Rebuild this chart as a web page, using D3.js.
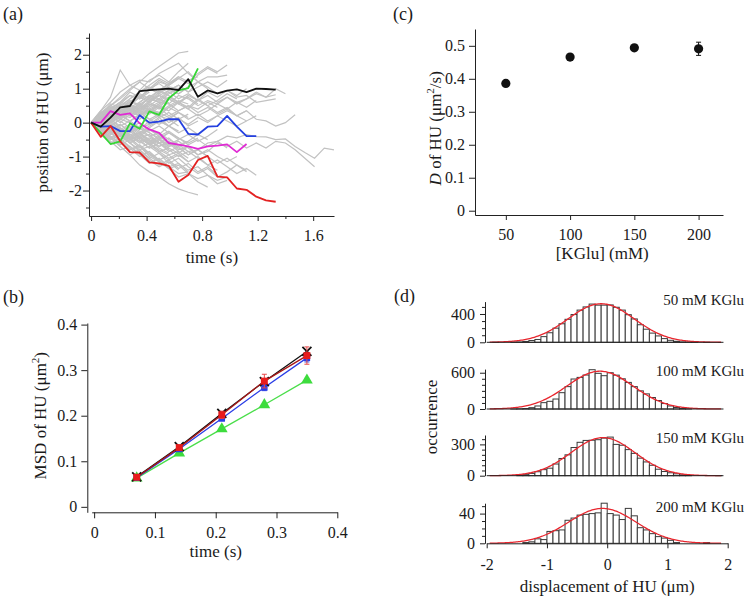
<!DOCTYPE html>
<html>
<head>
<meta charset="utf-8">
<script src="https://cdn.jsdelivr.net/npm/d3@7"></script>
<style>
  body { margin: 0; background: #fff; }
  svg text { font-family: "Liberation Serif", "Times New Roman", serif; fill: #1a1a1a; }
</style>
</head>
<body>
<svg id="fig" width="750" height="600"></svg>
<script>
const FONT = '"Liberation Serif", "Times New Roman", serif';

// ---------- (a) single-particle trajectories, one point every 0.07 s ----------
const frameDt = 0.07;
const trackBlack = [0, -0.12, 0.15, 0.45, 0.49, 0.93, 0.96, 0.98, 1.0, 0.96, 1.28, 0.76, 0.95, 0.86, 0.94, 0.98, 0.9, 1.0, 0.99, 0.97];
const trackGreen = [0, -0.3, -0.63, -0.55, -0.02, -0.18, 0.33, 0.23, 0.72, 0.95, 1.02, 1.6];
const trackBlue = [0, -0.12, -0.1, -0.25, -0.25, 0.22, 0.0, 0.03, 0.1, 0.1, -0.33, -0.35, -0.12, -0.1, 0.2, -0.12, -0.4, -0.4];
const trackMagenta = [0, 0.0, 0.34, 0.23, 0.27, -0.02, -0.2, -0.3, -0.6, -0.65, -0.7, -0.77, -0.7, -0.68, -0.64, -0.87, -0.63];
const trackRed = [0, -0.42, -0.1, -0.55, -0.87, -0.88, -1.17, -1.2, -1.27, -1.74, -1.54, -1.1, -0.98, -1.59, -1.61, -1.94, -1.98, -2.18, -2.29, -2.33];
const greyTracks = [
  [0, 0.25, 0.5, 0.7, 0.95, 1.2, 1.45, 1.65, 1.85, 2.05, 2.1],
  [0, 0.35, 0.75, 1.55, 1.1, 1.25, 1.2, 1.45, 1.6, 1.75, 1.45, 1.2],
  [0, -0.2, -0.45, -0.7, -0.95, -1.25, -1.45, -1.6, -1.8, -1.95, -2.05, -2.13],
  [0, -0.1, 0.1, -0.15, -0.35, -0.3, -0.55, -0.5, -0.7, -0.65, -0.85, -0.8, -0.6, -0.55, -0.4, -0.45, -0.35, -0.41, -0.42, -0.5, -0.48, -0.7, -0.88, -1.05, -0.75, -0.8],
  [0, 0.15, -0.05, -0.3, -0.2, -0.45, -0.6, -0.5, -0.75, -0.9, -0.7, -0.95, -0.85, -0.6, -0.7, -0.55, -0.75, -0.6, -0.75, -0.55, -0.6, -0.8, -1.05, -1.3],
  [0, 0.2, 0.05, 0.3, 0.5, 0.35, 0.6, 0.45, 0.7, 0.55, 0.4, 0.65, 0.5, 0.3, 0.45, 0.2, 0.35, 0.1, 0.05, -0.1, 0.0, 0.23],
  [0, -0.15, 0.1, 0.35, 0.25, 0.6, 0.8, 0.7, 0.95, 1.1, 0.9, 1.2, 1.05, 0.85, 0.95, 0.75, 0.8, 0.6, 0.65, 0.7],
  [0, 0.1, 0.3, 0.2, 0.5, 0.45, 0.75, 0.6, 0.55, 0.8, 0.7, 0.5, 0.65, 0.55, 0.75, 0.6, 0.7, 0.85, 0.75, 0.82],
  [0, 0.3, 0.2, 0.55, 0.8, 0.7, 1.0, 1.25, 1.1, 1.3, 1.5, 1.2, 1.35, 1.35, 1.4],
  [0, -0.3, -0.2, -0.5, -0.8, -0.65, -0.9, -1.1, -0.95, -1.2, -1.4, -1.3, -1.55, -1.7, -1.6],
  [0, 0.2, 0.1, 0.35, 0.5, 0.4, 0.65, 0.8, 0.7, 0.95],
  [0, -0.2, -0.35, -0.15, -0.4, -0.6, -0.5, -0.75, -0.9],
  [0, 0.15, 0.4, 0.6, 0.5, 0.75, 0.95, 1.2, 1.1],
  [0, -0.1, -0.3, -0.55, -0.45, -0.7, -1.0, -1.15, -1.3, -1.2, -1.45],
  [0, 0.3, 0.45, 0.3, 0.55, 0.75, 0.6, 0.85, 1.05, 1.0, 1.25, 1.35],
  [0, -0.25, -0.1, 0.1, 0.0, -0.2, 0.05, 0.2, 0.1, 0.3, 0.15],
  [0, 0.1, -0.1, -0.3, -0.2, -0.45, -0.35, -0.6, -0.55, -0.8, -0.7, -0.95],
  [0, 0.25, 0.55, 0.45, 0.7, 0.9, 1.05, 0.9, 1.15, 1.3],
  [0, -0.3, -0.55, -0.8, -0.7, -0.95, -1.2, -1.05, -1.3, -1.5, -1.45],
  [0, 0.15, 0.05, 0.25, 0.45, 0.3, 0.1, 0.25, 0.0, 0.15, -0.1, 0.05],
  [0, -0.15, -0.05, -0.25, -0.5, -0.4, -0.2, -0.35, -0.1, -0.25],
  [0, 0.35, 0.6, 0.9, 1.1, 0.95, 1.25, 1.4, 1.2, 1.5, 1.75],
  [0, -0.35, -0.6, -0.45, -0.75, -1.0, -0.85, -1.1, -1.35, -1.6, -1.5, -1.75, -1.9],
  [0, 0.1, 0.3, 0.15, 0.4, 0.3, 0.55, 0.45, 0.2, 0.35, 0.5, 0.4, 0.6, 0.45],
  [0, -0.05, 0.2, 0.4, 0.6, 0.8, 0.65, 0.9, 1.0, 0.85, 1.05, 1.2, 1.0],
  [0, -0.2, -0.1, -0.35, -0.6, -0.8, -0.7, -0.9, -1.1, -0.95, -1.15, -1.0, -1.25, -1.4],
  [0, 0.2, 0.45, 0.35, 0.6, 0.55, 0.35, 0.5, 0.7, 0.55, 0.8],
  [0, -0.25, -0.5, -0.4, -0.6, -0.45, -0.65, -0.5, -0.3, -0.45, -0.6, -0.45],
  [0, 0.3, 0.5, 0.75, 1.0, 1.2, 1.0, 1.15, 0.95, 1.1, 0.9, 1.05, 1.2, 1.05, 1.25],
  [0, -0.1, -0.25, -0.05, -0.3, -0.15, -0.4, -0.6, -0.45, -0.7, -0.55, -0.35, -0.5],
  [0, 0.1, 0.2, 0.0, 0.25, 0.1, 0.35, 0.2, 0.45, 0.6, 0.45, 0.7, 0.5, 0.65, 0.85, 0.7],
  [0, -0.2, -0.4, -0.65, -0.5, -0.75, -0.6, -0.85, -1.05, -0.9, -1.15],
  [0, 0.2, 0.4, 0.25, 0.05, 0.2, -0.05, 0.15, -0.1, -0.3, -0.15, -0.35],
  [0, -0.15, -0.35, -0.2, -0.45, -0.7, -0.9, -1.15, -1.35, -1.25, -1.5, -1.65, -1.55, -1.8, -1.7],
  [0, 0.25, 0.15, 0.4, 0.65, 0.5, 0.75, 0.95, 0.8, 0.6, 0.75, 0.55],
  [0, -0.3, -0.2, -0.4, -0.25, -0.5, -0.75, -0.6, -0.85, -0.7, -0.95, -0.8, -1.0],
  [0, 0.15, 0.35, 0.55, 0.4, 0.2, 0.35, 0.15, 0.3, 0.1, 0.25],
  [0, -0.1, 0.15, 0.05, -0.15, 0.0, -0.25, -0.1, -0.3, -0.5, -0.35, -0.55, -0.4, -0.2],
  [0, 0.2, 0.4, 0.6, 0.9, 0.75, 1.0, 0.85, 1.1, 1.3, 1.15, 1.4, 1.6, 1.45],
  [0, -0.25, -0.45, -0.7, -0.95, -0.8, -1.05, -1.25, -1.1, -1.35, -1.2, -1.45, -1.3, -1.55],
  [0, 0.1, -0.1, 0.1, 0.3, 0.5, 0.35, 0.55, 0.75, 0.6, 0.8, 0.65, 0.9, 0.75, 0.95, 0.8, 1.0],
  [0, -0.15, 0.05, -0.2, -0.4, -0.3, -0.55, -0.45, -0.7, -0.55, -0.75, -0.95, -0.8, -1.0, -1.15, -1.0],
  [0, 0.3, 0.15, 0.35, 0.2, 0.45, 0.3, 0.5, 0.35, 0.6, 0.4, 0.2, 0.35, 0.55, 0.4, 0.6, 0.45, 0.65],
  [0, -0.2, -0.05, -0.25, -0.1, -0.3, -0.15, 0.05, -0.1, 0.1, -0.05, 0.15, 0.0, 0.2, 0.05, -0.1, 0.05],
  [0, 0.25, 0.5, 0.35, 0.6, 0.85, 0.7, 0.95, 1.15, 1.35, 1.2, 1.45, 1.65, 1.5, 1.7],
  [0, -0.3, -0.5, -0.35, -0.6, -0.85, -1.05, -0.9, -1.2, -1.05, -1.3, -1.5, -1.35, -1.6, -1.45, -1.25, -1.4],
  [0, 0.15, 0.35, 0.2, 0.45, 0.6, 0.8, 0.65, 0.9, 0.7, 0.85, 0.65, 0.8, 0.6, 0.75, 0.55, 0.7, 0.9, 0.75, 1.0, 0.85],
  [0, -0.1, -0.3, -0.5, -0.35, -0.55, -0.75, -0.6, -0.8, -1.0, -0.85, -1.05, -1.25, -1.1, -1.3, -1.5, -1.35, -1.55],
  [0, 0.2, 0.0, 0.2, 0.4, 0.25, 0.5, 0.7, 0.55, 0.35, 0.5, 0.3, 0.45, 0.25, 0.4, 0.2, 0.35],
  [0, -0.2, -0.45, -0.3, -0.5, -0.35, -0.2, -0.4, -0.25, -0.45, -0.65, -0.5, -0.7, -0.55, -0.75],
  [0, 0.1, 0.3, 0.15, 0.35, 0.2, 0.4, 0.25, 0.45, 0.3, 0.1, 0.25, 0.05, 0.2, 0.35, 0.2, 0.05, 0.2],
  [0, -0.2, -0.05, -0.25, -0.45, -0.3, -0.5, -0.7, -0.55, -0.75, -0.95, -0.8, -1.0, -1.2, -1.05, -1.25, -1.45],
  [0, 0.15, 0.3, 0.2, 0.4, 0.55, 0.45, 0.6],
  [0, -0.15, -0.3, -0.2, -0.4, -0.55, -0.45, -0.6, -0.75],
  [0, 0.2, 0.1, -0.1, 0.05, -0.15, -0.05, 0.1],
  [0, -0.1, 0.05, 0.25, 0.15, 0.35, 0.25, 0.45, 0.35],
  [0, 0.05, -0.15, -0.35, -0.5, -0.4, -0.65, -0.55],
  [0, 0.25, 0.4, 0.6, 0.8, 0.7, 0.9],
  [0, -0.25, -0.4, -0.6, -0.8, -0.7, -0.95, -1.1],
  [0, 0.1, 0.25, 0.1, 0.3, 0.5, 0.4, 0.55, 0.75],
  [0, -0.05, -0.2, -0.05, -0.25, -0.1, -0.3, -0.45, -0.3],
  [0, 0.2, 0.35, 0.5, 0.35, 0.55, 0.7, 0.6, 0.85, 1.0],
  [0, -0.2, -0.1, -0.3, -0.15, -0.35, -0.55, -0.7, -0.6, -0.85],
  [0, 0.1, 0.0, 0.15, 0.3, 0.2, 0.4, 0.3, 0.15, 0.3],
  [0, -0.1, -0.25, -0.4, -0.3, -0.15, -0.3, -0.5, -0.65, -0.5],
  [0, 0.3, 0.2, 0.4, 0.55, 0.75, 0.6, 0.8, 0.65],
  [0, -0.3, -0.15, -0.35, -0.55, -0.45, -0.65, -0.85, -0.75],
  [0, 0.15, 0.0, 0.2, 0.05, 0.25, 0.4, 0.3, 0.5, 0.65, 0.55],
  [0, -0.15, 0.0, -0.2, -0.05, -0.25, -0.4, -0.3, -0.5, -0.65, -0.55],
  [0, 0.2, 0.45, 0.3, 0.5, 0.35, 0.55, 0.4, 0.6],
  [0, -0.2, -0.45, -0.3, -0.5, -0.35, -0.55, -0.4, -0.6],
  [0, 0.05, 0.2, 0.35, 0.2, 0.4, 0.6, 0.8, 0.95, 0.85, 1.05],
  [0, -0.05, -0.2, -0.35, -0.2, -0.4, -0.6, -0.8, -0.95, -0.85, -1.05],
  [0, 0.25, 0.1, 0.3, 0.45, 0.3, 0.1, -0.05, 0.1, -0.1],
  [0, -0.25, -0.1, -0.3, -0.45, -0.3, -0.1, 0.05, -0.1, 0.1],
  [0, 0.1, 0.3, 0.5, 0.7, 0.9, 1.1, 1.3, 1.15, 1.35],
  [0, -0.1, -0.3, -0.5, -0.7, -0.9, -1.1, -1.3, -1.15, -1.4]
];
const aTimeTicks = [0, 0.4, 0.8, 1.2, 1.6];
const aTimeMinor = [0.2, 0.6, 1.0, 1.4];
const aPosTicks = [-2, -1, 0, 1, 2];
const aPosMinor = [-2.5, -1.5, -0.5, 0.5, 1.5, 2.5];

// ---------- (b) MSD curves ----------
const msdTime = [0.07, 0.14, 0.21, 0.28, 0.35];
const msdGreen = [0.063, 0.118, 0.171, 0.224, 0.278];
const msdBlue = [0.064, 0.127, 0.194, 0.262, 0.327];
const msdBlack = [0.066, 0.132, 0.205, 0.275, 0.341];
const msdRed = [0.065, 0.130, 0.202, 0.276, 0.332];
const msdRedErr = [0.003, 0.005, 0.008, 0.015, 0.019];
const msdBlueErr = [0.002, 0.003, 0.005, 0.007, 0.009];
const bTimeTicks = [0, 0.1, 0.2, 0.3, 0.4];
const bMsdTicks = [0, 0.1, 0.2, 0.3, 0.4];

// ---------- (c) diffusion coefficient ----------
const kglu = [50, 100, 150, 200];
const diffCoef = [0.386, 0.466, 0.494, 0.491];
const diffErr = [0.004, 0.004, 0.004, 0.02];
const cYTicks = [0, 0.1, 0.2, 0.3, 0.4, 0.5];

// ---------- (d) displacement histograms, bins of 0.1 um starting at -1.9 ----------
const histTitles = ["50 mM KGlu", "100 mM KGlu", "150 mM KGlu", "200 mM KGlu"];
const hist50 = [1, 0, 0, 2, 5, 12, 25, 40, 80, 135, 200, 262, 325, 392, 455, 500, 540, 525, 525, 528, 495, 455, 390, 330, 248, 185, 130, 90, 52, 28, 14, 6, 3, 1, 0, 1, 0, 0];
const hist100 = [0, 0, 0, 1, 3, 8, 22, 50, 105, 127, 165, 270, 370, 496, 523, 562, 650, 590, 551, 600, 560, 500, 440, 370, 300, 250, 190, 140, 90, 50, 25, 10, 4, 0, 0, 0, 0, 0];
const hist150 = [0, 0, 0, 0, 4, 10, 22, 38, 58, 72, 112, 165, 200, 270, 320, 338, 340, 345, 360, 370, 300, 292, 250, 214, 168, 132, 100, 62, 40, 28, 18, 8, 3, 0, 0, 0, 0, 1];
const hist200 = [0, 0, 0, 0, 0, 1, 2, 6, 5, 16, 17, 18, 31, 34, 38, 39, 40, 41, 54, 40, 38, 32, 47, 37, 21, 18, 13, 9, 7, 4, 1, 0, 0, 0, 0, 1, 0, 0];
const fitCenter = [-0.1, -0.12, -0.07, -0.08];
const fitSigma = [0.55, 0.55, 0.53, 0.56];
const fitAmp = [545, 625, 365, 47];
const histMax = [575, 660, 390, 54];
const histMajor = [[0, 400], [0, 600], [0, 300], [0, 40]];
const histMinor = [[100, 200, 300, 500], [100, 200, 300, 400, 500], [50, 100, 150, 200, 250, 350], [10, 20, 30, 50]];
const dTicks = [-2, -1, 0, 1, 2];

// layout (pixel positions of the sub-panels in the figure)
const histZeroY = [342.3, 409, 475.7, 543.3];
const histTopY = [301.6, 369.1, 435, 503.2];
const histTitleY = [305, 376, 443, 512];

const svg = d3.select("#fig");
svg.append("rect").attr("width", 750).attr("height", 600).attr("fill", "#fff");

function styleAxis(g, size) {
  g.attr("font-family", FONT).attr("font-size", size || 16);
  g.selectAll("path, line").attr("stroke", "#222").attr("stroke-width", 1);
  g.selectAll("text").attr("fill", "#1a1a1a");
}
const fmt = (d) => String(d);

function panelLabel(txt, x, y) {
  svg.append("text").attr("x", x).attr("y", y).attr("font-size", 18).text(txt);
}

// ================= (a) =================
const xA = d3.scaleLinear().domain([-0.015, 1.75]).range([89, 334]);
const yA = d3.scaleLinear().domain([-2.75, 2.64]).range([216, 33]);
const gA = svg.append("g");

const trackLine = d3.line().x((d, i) => xA(i * frameDt)).y((d) => yA(d));
gA.selectAll(".grey").data(greyTracks).join("path")
  .attr("class", "grey").attr("d", trackLine)
  .attr("fill", "none").attr("stroke", "#c2c2c2").attr("stroke-width", 1.2);

const colourTracks = [
  { pos: trackMagenta, color: "#e02bd4" },
  { pos: trackBlue, color: "#2440e0" },
  { pos: trackGreen, color: "#36d636" },
  { pos: trackRed, color: "#e32222" },
  { pos: trackBlack, color: "#111" }
];
colourTracks.forEach(({ pos, color }) => {
  gA.append("path").datum(pos).attr("d", trackLine)
    .attr("fill", "none").attr("stroke", color).attr("stroke-width", 1.8)
    .attr("stroke-linejoin", "round");
});

gA.append("g").attr("transform", `translate(0,${yA.range()[0]})`)
  .call(d3.axisBottom(xA).tickValues(aTimeTicks).tickFormat(fmt).tickSize(5).tickPadding(9).tickSizeOuter(0))
  .call(styleAxis);
gA.append("g").attr("transform", `translate(0,${yA.range()[0]})`)
  .call(d3.axisBottom(xA).tickValues(aTimeMinor).tickFormat("").tickSize(3))
  .call((g) => g.select(".domain").remove()).call(styleAxis);
gA.append("g").attr("transform", `translate(${xA.range()[0]},0)`)
  .call(d3.axisLeft(yA).tickValues(aPosTicks).tickFormat(fmt).tickSize(6).tickPadding(1).tickSizeOuter(0))
  .call(styleAxis);
gA.append("g").attr("transform", `translate(${xA.range()[0]},0)`)
  .call(d3.axisLeft(yA).tickValues(aPosMinor).tickFormat("").tickSize(3))
  .call((g) => g.select(".domain").remove()).call(styleAxis);

gA.append("text").attr("x", xA(0.87)).attr("y", 263).attr("text-anchor", "middle")
  .attr("font-size", 17).text("time (s)");
gA.append("text").attr("transform", `translate(48,${yA(0)}) rotate(-90)`)
  .attr("text-anchor", "middle").attr("font-size", 17).text("position of HU (\u03bcm)");
panelLabel("(a)", 3, 20);

// ================= (b) =================
const xB = d3.scaleLinear().domain([-0.004, 0.4]).range([91.7, 337.3]);
const yB = d3.scaleLinear().domain([-0.012, 0.4035]).range([512.3, 323]);
const bYAxisX = 87.3;
const gB = svg.append("g");

gB.append("g").attr("transform", `translate(0,${yB.range()[0]})`)
  .call(d3.axisBottom(xB).tickValues(bTimeTicks).tickFormat(fmt).tickSize(6).tickPadding(8).tickSizeOuter(0))
  .call(styleAxis);
gB.append("g").attr("transform", `translate(${bYAxisX},0)`)
  .call(d3.axisLeft(yB).tickValues(bMsdTicks).tickFormat(fmt).tickSize(6).tickPadding(4).tickSizeOuter(0))
  .call(styleAxis);

const msdLine = d3.line().x((d, i) => xB(msdTime[i])).y((d) => yB(d));
function errBars(vals, errs, color) {
  const cap = 2.5;
  vals.forEach((v, i) => {
    const x = xB(msdTime[i]);
    gB.append("path")
      .attr("d", `M${x - cap},${yB(v + errs[i])}H${x + cap}M${x},${yB(v + errs[i])}V${yB(v - errs[i])}M${x - cap},${yB(v - errs[i])}H${x + cap}`)
      .attr("stroke", color).attr("stroke-width", 1).attr("fill", "none");
  });
}
// green triangles
gB.append("path").datum(msdGreen).attr("d", msdLine).attr("fill", "none").attr("stroke", "#4ade4a").attr("stroke-width", 1.3);
gB.selectAll(".tri").data(msdGreen).join("path").attr("class", "tri")
  .attr("transform", (d, i) => `translate(${xB(msdTime[i])},${yB(d)})`)
  .attr("d", d3.symbol(d3.symbolTriangle, 60)).attr("fill", "#3ddc3d");
// blue squares
errBars(msdBlue, msdBlueErr, "#3a4ee0");
gB.append("path").datum(msdBlue).attr("d", msdLine).attr("fill", "none").attr("stroke", "#2a3ee6").attr("stroke-width", 1.3);
gB.selectAll(".bsq").data(msdBlue).join("path").attr("class", "bsq")
  .attr("transform", (d, i) => `translate(${xB(msdTime[i])},${yB(d)})`)
  .attr("d", d3.symbol(d3.symbolSquare, 42)).attr("fill", "#2a3ee6");
// black crosses
gB.append("path").datum(msdBlack).attr("d", msdLine).attr("fill", "none").attr("stroke", "#111").attr("stroke-width", 1.3);
gB.selectAll(".xx").data(msdBlack).join("path").attr("class", "xx")
  .attr("transform", (d, i) => `translate(${xB(msdTime[i])},${yB(d)})`)
  .attr("d", "M-4.5,-4.5L4.5,4.5M-4.5,4.5L4.5,-4.5")
  .attr("fill", "none").attr("stroke", "#111").attr("stroke-width", 1.8);
// red squares
errBars(msdRed, msdRedErr, "#e84848");
gB.append("path").datum(msdRed).attr("d", msdLine).attr("fill", "none").attr("stroke", "#a81818").attr("stroke-width", 1.3);
gB.selectAll(".rsq").data(msdRed).join("path").attr("class", "rsq")
  .attr("transform", (d, i) => `translate(${xB(msdTime[i])},${yB(d)})`)
  .attr("d", d3.symbol(d3.symbolSquare, 48)).attr("fill", "#e81c1c");

gB.append("text").attr("x", xB(0.2)).attr("y", 557).attr("text-anchor", "middle")
  .attr("font-size", 17).text("time (s)");
const bTitle = gB.append("text").attr("transform", `translate(46,${yB(0.2)}) rotate(-90)`)
  .attr("text-anchor", "middle").attr("font-size", 17);
bTitle.append("tspan").text("MSD of HU (\u03bcm");
bTitle.append("tspan").attr("dy", -7).attr("font-size", 11).text("2");
bTitle.append("tspan").attr("dy", 7).text(")");
panelLabel("(b)", 3, 303);

// ================= (c) =================
const xC = d3.scaleLinear().domain([26, 219]).range([475, 723]);
const yC = d3.scaleLinear().domain([-0.013, 0.551]).range([215, 29]);
const gC = svg.append("g");

gC.append("g").attr("transform", `translate(0,${yC.range()[0]})`)
  .call(d3.axisBottom(xC).tickValues(kglu).tickFormat(fmt).tickSize(5).tickPadding(9).tickSizeOuter(0))
  .call(styleAxis);
gC.append("g").attr("transform", `translate(${xC.range()[0]},0)`)
  .call(d3.axisLeft(yC).tickValues(cYTicks).tickFormat(fmt).tickSize(6).tickPadding(4).tickSizeOuter(0))
  .call(styleAxis);

kglu.forEach((k, i) => {
  const x = xC(k), cap = 2.5;
  gC.append("path")
    .attr("d", `M${x - cap},${yC(diffCoef[i] + diffErr[i])}H${x + cap}M${x},${yC(diffCoef[i] + diffErr[i])}V${yC(diffCoef[i] - diffErr[i])}M${x - cap},${yC(diffCoef[i] - diffErr[i])}H${x + cap}`)
    .attr("stroke", "#111").attr("stroke-width", 1).attr("fill", "none");
});
gC.selectAll(".dot").data(diffCoef).join("circle").attr("class", "dot")
  .attr("cx", (d, i) => xC(kglu[i])).attr("cy", (d) => yC(d)).attr("r", 4.6).attr("fill", "#111");

gC.append("text").attr("x", xC(125)).attr("y", 259).attr("text-anchor", "middle")
  .attr("font-size", 17).text("[KGlu] (mM)");
const cTitle = gC.append("text").attr("transform", `translate(441,${yC(0.25)}) rotate(-90)`)
  .attr("text-anchor", "middle").attr("font-size", 17);
cTitle.append("tspan").attr("font-style", "italic").text("D");
cTitle.append("tspan").text(" of HU (\u03bcm");
cTitle.append("tspan").attr("dy", -7).attr("font-size", 11).text("2");
cTitle.append("tspan").attr("dy", 7).text("/s)");
panelLabel("(c)", 393, 20);

// ================= (d) =================
const xD = d3.scaleLinear().domain([-2, 2]).range([486.7, 727.7]);
const dYAxisX = 485;
const binStart = -1.9, binWidth = 0.1, lineEnd = 1.93;
const gD = svg.append("g");
const histCounts = [hist50, hist100, hist150, hist200];

histCounts.forEach((counts, k) => {
  const y = d3.scaleLinear().domain([0, histMax[k]]).range([histZeroY[k], histTopY[k]]);
  const g = gD.append("g");
  const bars = counts.map((c, i) => ({ x0: binStart + i * binWidth, c })).filter((d) => d.c > 0);
  g.selectAll("rect").data(bars).join("rect")
    .attr("x", (d) => xD(d.x0)).attr("width", xD(binWidth) - xD(0))
    .attr("y", (d) => y(d.c)).attr("height", (d) => y(0) - y(d.c))
    .attr("fill", "#fff").attr("stroke", "#3a3a3a").attr("stroke-width", 1);

  // Gaussian fit curve
  const xs = d3.range(-1.95, 1.91, 0.02);
  g.append("path").datum(xs)
    .attr("d", d3.line().x((u) => xD(u))
      .y((u) => y(fitAmp[k] * Math.exp(-((u - fitCenter[k]) ** 2) / (2 * fitSigma[k] ** 2)))))
    .attr("fill", "none").attr("stroke", "#e8262e").attr("stroke-width", 1.3);

  if (k === histCounts.length - 1) {
    g.append("g").attr("transform", `translate(0,${y(0)})`)
      .call(d3.axisBottom(xD).tickValues(dTicks).tickFormat(fmt).tickSize(5).tickPadding(10).tickSizeOuter(0))
      .call(styleAxis);
  } else {
    g.append("line").attr("x1", xD(-2)).attr("x2", xD(lineEnd))
      .attr("y1", y(0)).attr("y2", y(0)).attr("stroke", "#222");
  }
  g.append("g").attr("transform", `translate(${dYAxisX},0)`)
    .call(d3.axisLeft(y).tickValues(histMajor[k]).tickFormat(fmt).tickSize(5).tickPadding(5).tickSizeOuter(0))
    .call(styleAxis);
  g.append("g").attr("transform", `translate(${dYAxisX},0)`)
    .call(d3.axisLeft(y).tickValues(histMinor[k]).tickFormat("").tickSize(3))
    .call((s) => s.select(".domain").remove()).call(styleAxis);

  g.append("text").attr("x", 744).attr("y", histTitleY[k]).attr("text-anchor", "end")
    .attr("font-size", 15).text(histTitles[k]);
});

gD.append("text").attr("x", xD(0)).attr("y", 592).attr("text-anchor", "middle")
  .attr("font-size", 17).text("displacement of HU (\u03bcm)");
gD.append("text").attr("transform", `translate(437,417) rotate(-90)`)
  .attr("text-anchor", "middle").attr("font-size", 17).text("occurrence");
panelLabel("(d)", 394, 302);
</script>
</body>
</html>
